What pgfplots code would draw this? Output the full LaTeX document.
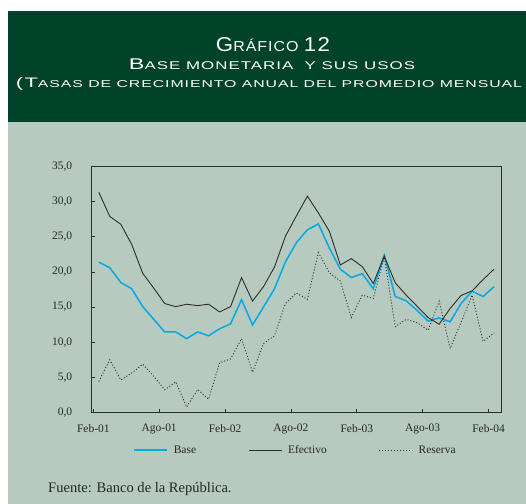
\documentclass[border=0pt]{standalone}
\usepackage{fontspec}
\setmainfont{Liberation Serif}
\newfontfamily\headfont[LetterSpace=6]{Liberation Sans}
\usepackage{graphicx}
\usepackage{pgfplots}
\usepackage{pgfplotstable}
\pgfplotsset{compat=1.18}
\definecolor{hdr}{RGB}{0,67,42}
\definecolor{panel}{RGB}{182,202,191}
\definecolor{cyanline}{RGB}{0,170,230}
\definecolor{axgray}{RGB}{45,45,45}

\pgfplotstableread{
x base efectivo reserva
0.5 21.4 31.35 4.4
1.5 20.6 27.9 7.5
2.5 18.5 26.8 4.6
3.5 17.6 23.9 5.6
4.5 15.06 19.8 6.85
5.5 13.25 17.7 5.15
6.5 11.45 15.5 3.2
7.5 11.45 15.05 4.35
8.5 10.5 15.4 0.75
9.5 11.45 15.2 3.25
10.5 10.9 15.4 1.85
11.5 11.9 14.3 7.05
12.5 12.6 15.06 7.6
13.5 16.05 19.2 10.5
14.5 12.45 15.85 5.7
15.5 15.0 17.9 9.8
16.5 17.6 20.7 10.9
17.5 21.45 25.1 15.5
18.5 24.2 28.0 17.0
19.5 26.0 30.8 16.1
20.5 26.85 28.4 22.75
21.5 23.4 25.8 19.9
22.5 20.4 21.0 18.7
23.5 19.2 21.9 13.5
24.5 19.75 20.75 16.7
25.5 17.6 18.35 16.2
26.5 22.4 22.25 22.15
27.5 16.5 18.45 12.2
28.5 15.9 16.7 13.25
29.5 14.5 15.1 12.75
30.5 13.0 13.5 11.7
31.5 13.45 12.55 15.85
32.5 12.9 14.8 9.1
33.5 15.5 16.65 12.8
34.5 17.25 17.3 16.7
35.5 16.5 18.9 10.1
36.5 17.9 20.4 11.3
}\datatable

\begin{document}
\begin{tikzpicture}[x=1bp,y=1bp]
\useasboundingbox (0,0) rectangle (526,504);
\clip (0,0) rectangle (526,504);
\fill[white] (0,0) rectangle (526,504);
\fill[panel] (8.3,0) rectangle (526,382.3);
\fill[hdr] (8.3,382.3) rectangle (526,493);
\node[anchor=base, inner sep=0, text=white] at (273,452.3)
  {\resizebox{114bp}{14bp}{\headfont\fontsize{16}{16}\selectfont G\fontsize{11.5}{11.5}\selectfont RÁFICO \fontsize{16}{16}\selectfont 12}};
\node[anchor=base, inner sep=0, text=white] at (272,434.5)
  {\resizebox{286bp}{10.7bp}{\headfont\fontsize{14}{14}\selectfont B\fontsize{10.1}{10.1}\selectfont ASE MONETARIA\ \ Y SUS USOS}};
\node[anchor=base, inner sep=0, text=white] at (269,416)
  {\resizebox{506bp}{10bp}{\headfont\fontsize{13}{13}\selectfont (T\fontsize{9.4}{9.4}\selectfont ASAS DE CRECIMIENTO ANUAL DEL PROMEDIO MENSUAL}};
\begin{axis}[
  at={(91.7bp,91.7bp)}, anchor=south west,
  scale only axis, width=410bp, height=245.6bp,
  xmin=-0.15, xmax=37.2, ymin=0, ymax=35,
  xtick={0,6,...,36},
  xticklabels={Feb-01,Ago-01,Feb-02,Ago-02,Feb-03,Ago-03,Feb-04},
  ytick={0,5,...,35},
  tick pos=left, tick align=inside, major tick length=3bp,
  axis line style={axgray, line width=1.1bp},
  tick style={axgray, line width=0.8bp},
  ticklabel style={font=\fontsize{11.5}{11.5}\selectfont, text=black!85},
  yticklabel style={xshift=-16bp, /pgf/number format/fixed, /pgf/number format/fixed zerofill, /pgf/number format/precision=1, /pgf/number format/use comma, /pgf/number format/assume math mode=true},
  xticklabel style={yshift=-8.5bp},
  legend columns=3,
  legend image code/.code={\draw[#1] (0bp,0bp) -- (33bp,0bp); \path (37bp,0bp);},
  legend style={draw=none, fill=none, at={(0.497,-0.1535)}, anchor=center,
    font=\fontsize{11.5}{11.5}\selectfont, text=black!85,
    /tikz/every even column/.append style={column sep=50bp}},
]
\addplot[cyanline, line width=1.5bp] table[x=x,y=base]{\datatable};
\addplot[axgray, line width=0.9bp] table[x=x,y=efectivo]{\datatable};
\addplot[axgray, line width=0.9bp, dash pattern=on 1bp off 2bp] table[x=x,y=reserva]{\datatable};
\legend{Base,Efectivo,Reserva}
\end{axis}
\node[anchor=base west, inner sep=0, font=\fontsize{14.6}{14.6}\selectfont, text=black!85] at (48,11.8) {Fuente: Banco de la República.};
\end{tikzpicture}
\end{document}
